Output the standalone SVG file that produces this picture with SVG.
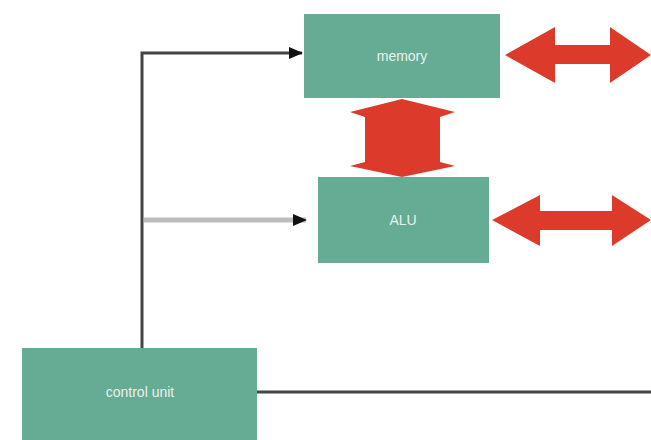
<svg xmlns="http://www.w3.org/2000/svg" width="651" height="440" viewBox="0 0 651 440">
<style>
.box{fill:#66ab94;}
.lbl{font-family:"Liberation Sans",Arial,sans-serif;font-size:14px;fill:#e6f2ec;text-anchor:middle;dominant-baseline:central;}
.wire{stroke:#444;stroke-width:3;fill:none;}
.red{fill:#dc3b2b;}
</style>
<defs>
<marker id="ah" markerWidth="14" markerHeight="12" refX="13" refY="6" orient="auto" markerUnits="userSpaceOnUse">
<path d="M0,0 L14,6 L0,12 Z" fill="#111"/>
</marker>
</defs>
<rect width="651" height="440" fill="#fff"/>
<g id="connectors">
<path class="wire" d="M142,350 V53 H302" marker-end="url(#ah)"/>
<path d="M144,220 H306" stroke="#bdbdbd" stroke-width="5" fill="none" marker-end="url(#ah)"/>
<path class="wire" d="M256,392 H651"/>
<path class="red" d="M505,55 L555,27 L555,45 L610,45 L610,27 L651,55 L610,83 L610,64 L555,64 L555,83 Z"/>
<path class="red" d="M492,220 L540,195 L540,211 L612,211 L612,195 L651,220 L612,246 L612,230 L540,230 L540,246 Z"/>
<path class="red" d="M402,99 L455,112 L440,117 L440,162 L455,166 L402,177 L350,166 L365,162 L365,117 L350,112 Z"/>
</g>
<g id="memory">
<rect class="box" x="304" y="14" width="196" height="84"/>
<text class="lbl" x="402" y="56">memory</text>
</g>
<g id="alu">
<rect class="box" x="318" y="177" width="171" height="86"/>
<text class="lbl" x="403" y="220">ALU</text>
</g>
<g id="control-unit">
<rect class="box" x="22" y="348" width="235" height="92"/>
<text class="lbl" x="140" y="392">control unit</text>
</g>
</svg>
